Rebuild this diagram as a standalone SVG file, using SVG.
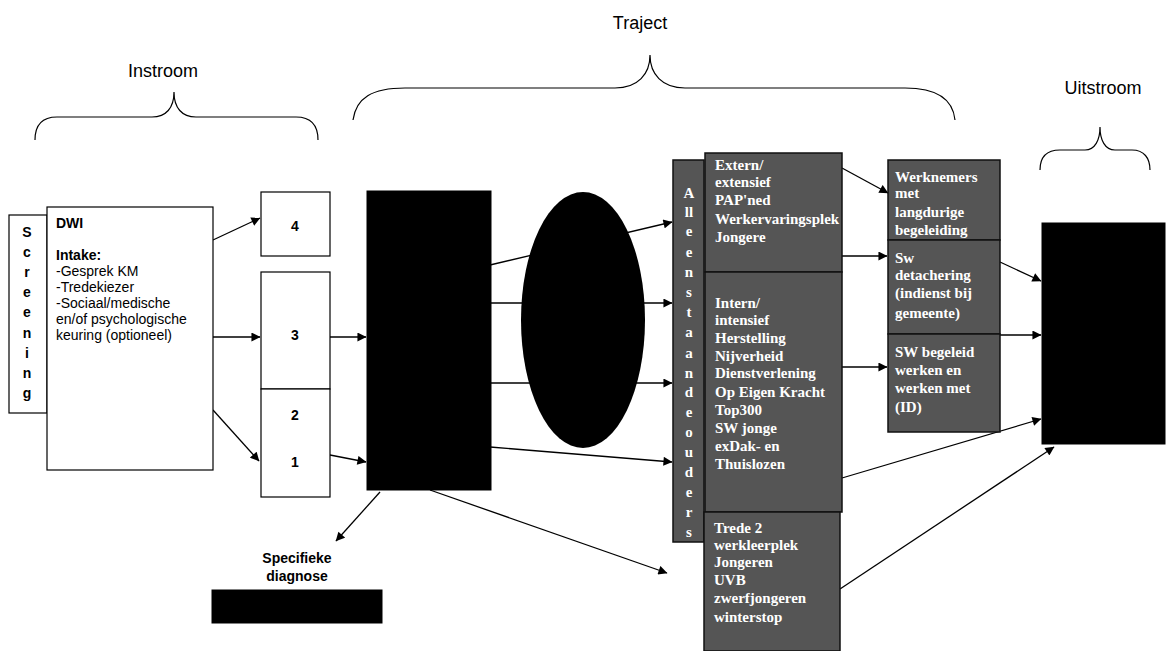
<svg xmlns="http://www.w3.org/2000/svg" width="1171" height="651" viewBox="0 0 1171 651">
<defs>
<marker id="arr" viewBox="0 0 10 10" refX="9.5" refY="5" markerWidth="10" markerHeight="9" markerUnits="userSpaceOnUse" orient="auto">
<path d="M0,0 L10,5 L0,10 z" fill="#000"/>
</marker>
</defs>
<style>
.hdr{font-family:"Liberation Sans",Arial,sans-serif;font-size:18px;fill:#000;text-anchor:middle}
.brace{fill:none;stroke:#000;stroke-width:1.2}
.box{fill:#fff;stroke:#000;stroke-width:1.2}
.blk{fill:#000;stroke:#000}
.gry{fill:#555;stroke:#111;stroke-width:1.5}
.t{font-family:"Liberation Sans",Arial,sans-serif;font-size:14px;fill:#000}
.b{font-weight:bold}
.w{font-family:"Liberation Serif","Times New Roman",serif;font-size:15px;font-weight:bold;fill:#fff}
.c{fill:none;stroke:#000;stroke-width:1.3;marker-end:url(#arr)}
.mid{text-anchor:middle}
</style>
<rect width="1171" height="651" fill="#fff"/>

<g id="headers">
<text class="hdr" x="163" y="77">Instroom</text>
<path class="brace" d="M35,140 C35,125 42,117 57,117 L152,117 C166,117 174,108 174,92 C174,108 182,117 196,117 L296,117 C311,117 318,125 318,140"/>
<text class="hdr" x="640" y="29">Traject</text>
<path class="brace" d="M353,120 C356,98 372,88 405,88 L615,88 C638,88 650,74 650,55 C650,74 662,88 685,88 L905,88 C938,88 953,100 955,120"/>
<text class="hdr" x="1103" y="94">Uitstroom</text>
<path class="brace" d="M1040,170 C1040,158 1046,150 1060,150 L1085,150 C1095,150 1100,140 1100,127 C1100,140 1105,150 1115,150 L1132,150 C1144,150 1150,158 1150,170"/>
</g>

<g id="connectors">
<line class="c" x1="213" y1="240" x2="260" y2="218"/>
<line class="c" x1="213" y1="337" x2="260" y2="337"/>
<line class="c" x1="213" y1="410" x2="259" y2="461"/>
<line class="c" x1="330" y1="337" x2="366" y2="337"/>
<line class="c" x1="330" y1="455" x2="366" y2="462"/>
<line class="c" x1="490" y1="265" x2="672" y2="222"/>
<line class="c" x1="490" y1="303" x2="672" y2="303"/>
<line class="c" x1="490" y1="383" x2="672" y2="383"/>
<line class="c" x1="490" y1="447" x2="672" y2="462"/>
<line class="c" x1="430" y1="490" x2="667" y2="573"/>
<line class="c" x1="380" y1="492" x2="336" y2="541"/>
<line class="c" x1="842" y1="168" x2="888" y2="193"/>
<line class="c" x1="842" y1="256" x2="887" y2="256"/>
<line class="c" x1="842" y1="367" x2="887" y2="367"/>
<line class="c" x1="842" y1="478" x2="1041" y2="419"/>
<line class="c" x1="840" y1="589" x2="1054" y2="447"/>
<line class="c" x1="1000" y1="262" x2="1041" y2="281"/>
<line class="c" x1="1000" y1="335" x2="1041" y2="335"/>
</g>

<g id="screening">
<rect class="box" x="9" y="215" width="38" height="198"/>
<text class="t b mid" x="27" y="237">S</text>
<text class="t b mid" x="27" y="257">c</text>
<text class="t b mid" x="27" y="277">r</text>
<text class="t b mid" x="27" y="297">e</text>
<text class="t b mid" x="27" y="317">e</text>
<text class="t b mid" x="27" y="338">n</text>
<text class="t b mid" x="27" y="358">i</text>
<text class="t b mid" x="27" y="378">n</text>
<text class="t b mid" x="27" y="398">g</text>
</g>

<g id="dwi">
<rect class="box" x="47" y="207" width="166" height="263"/>
<text class="t b" x="56" y="228">DWI</text>
<text class="t b" x="56" y="260">Intake:</text>
<text class="t" x="56" y="276">-Gesprek KM</text>
<text class="t" x="56" y="292">-Tredekiezer</text>
<text class="t" x="56" y="308">-Sociaal/medische</text>
<text class="t" x="56" y="324">en/of psychologische</text>
<text class="t" x="56" y="340">keuring (optioneel)</text>
</g>

<g id="box4">
<rect class="box" x="261" y="192" width="69" height="64"/>
<text class="t b mid" x="295" y="231">4</text>
</g>
<g id="box3">
<rect class="box" x="261" y="272" width="69" height="117"/>
<text class="t b mid" x="295" y="340">3</text>
</g>
<g id="box21">
<rect class="box" x="261" y="389" width="69" height="108"/>
<text class="t b mid" x="295" y="420">2</text>
<text class="t b mid" x="295" y="467">1</text>
</g>

<g id="traject-black">
<rect class="blk" x="367" y="191" width="124" height="299"/>
</g>

<g id="ellipse">
<ellipse cx="583" cy="320" rx="62" ry="128" fill="#000"/>
</g>

<g id="diagnose">
<text class="t b mid" x="297" y="563">Specifieke</text>
<text class="t b mid" x="297" y="581">diagnose</text>
<rect class="blk" x="212" y="590" width="170" height="33"/>
</g>

<g id="doelgroep">
<rect class="gry" x="673" y="160" width="31" height="382"/>
<text class="w mid" x="689" y="198">A</text>
<text class="w mid" x="689" y="217">ll</text>
<text class="w mid" x="689" y="236">e</text>
<text class="w mid" x="689" y="257">e</text>
<text class="w mid" x="689" y="277">n</text>
<text class="w mid" x="689" y="297">s</text>
<text class="w mid" x="689" y="317">t</text>
<text class="w mid" x="689" y="337">a</text>
<text class="w mid" x="689" y="358">a</text>
<text class="w mid" x="689" y="378">n</text>
<text class="w mid" x="689" y="397">d</text>
<text class="w mid" x="689" y="417">e</text>
<text class="w mid" x="689" y="437">o</text>
<text class="w mid" x="689" y="457">u</text>
<text class="w mid" x="689" y="477">d</text>
<text class="w mid" x="689" y="497">e</text>
<text class="w mid" x="689" y="517">r</text>
<text class="w mid" x="689" y="537">s</text>
</g>

<g id="extern">
<rect class="gry" x="705" y="153" width="137" height="119"/>
<text class="w" x="715" y="170">Extern/</text>
<text class="w" x="715" y="187">extensief</text>
<text class="w" x="715" y="205">PAP'ned</text>
<text class="w" x="715" y="224">Werkervaringsplek</text>
<text class="w" x="715" y="242">Jongere</text>
</g>

<g id="intern">
<rect class="gry" x="705" y="272" width="137" height="240"/>
<text class="w" x="715" y="308">Intern/</text>
<text class="w" x="715" y="325">intensief</text>
<text class="w" x="715" y="343">Herstelling</text>
<text class="w" x="715" y="361">Nijverheid</text>
<text class="w" x="715" y="378">Dienstverlening</text>
<text class="w" x="715" y="397">Op Eigen Kracht</text>
<text class="w" x="715" y="415">Top300</text>
<text class="w" x="715" y="433">SW jonge</text>
<text class="w" x="715" y="451">exDak- en</text>
<text class="w" x="715" y="469">Thuislozen</text>
</g>

<g id="trede2">
<rect class="gry" x="704" y="512" width="136" height="139"/>
<text class="w" x="714" y="533">Trede 2</text>
<text class="w" x="714" y="550">werkleerplek</text>
<text class="w" x="714" y="567">Jongeren</text>
<text class="w" x="714" y="585">UVB</text>
<text class="w" x="714" y="603">zwerfjongeren</text>
<text class="w" x="714" y="622">winterstop</text>
</g>

<g id="werknemers">
<rect class="gry" x="888" y="160" width="112" height="80"/>
<text class="w" x="895" y="182">Werknemers</text>
<text class="w" x="895" y="198">met</text>
<text class="w" x="895" y="217">langdurige</text>
<text class="w" x="895" y="235">begeleiding</text>
</g>
<g id="detachering">
<rect class="gry" x="888" y="240" width="112" height="94"/>
<text class="w" x="895" y="263">Sw</text>
<text class="w" x="895" y="280">detachering</text>
<text class="w" x="895" y="298">(indienst bij</text>
<text class="w" x="895" y="318">gemeente)</text>
</g>
<g id="begeleid">
<rect class="gry" x="888" y="334" width="112" height="98"/>
<text class="w" x="895" y="357">SW begeleid</text>
<text class="w" x="895" y="375">werken en</text>
<text class="w" x="895" y="393">werken met</text>
<text class="w" x="895" y="412">(ID)</text>
</g>

<g id="uitstroom-black">
<rect class="blk" x="1042" y="223" width="123" height="221"/>
</g>
</svg>
